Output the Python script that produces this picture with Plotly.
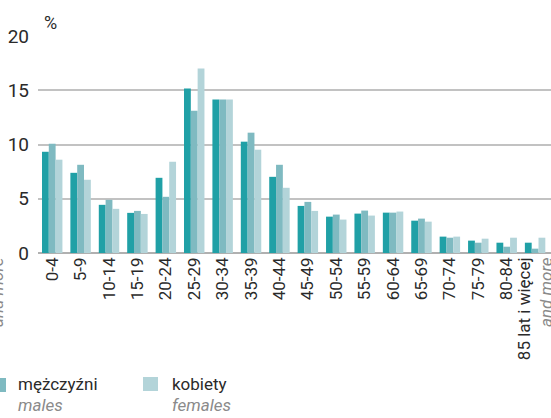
import plotly.graph_objects as go

categories = ["0-4", "5-9", "10-14", "15-19", "20-24", "25-29", "30-34", "35-39",
              "40-44", "45-49", "50-54", "55-59", "60-64", "65-69", "70-74",
              "75-79", "80-84", "85+"]
tick_labels = categories[:-1] + ["85 lat i więcej<br><i><span style='color:#8a8a8a'>and more</span></i>"]

ogolem = [9.33, 7.39, 4.44, 3.70, 6.93, 15.16, 14.14, 10.26, 7.02, 4.34,
          3.35, 3.63, 3.72, 2.98, 1.51, 1.14, 0.95, 0.95]
mezczyzni = [10.07, 8.13, 4.90, 3.88, 5.18, 13.12, 14.14, 11.09, 8.13, 4.71,
             3.54, 3.91, 3.72, 3.17, 1.41, 0.95, 0.58, 0.40]
kobiety = [8.60, 6.75, 4.07, 3.60, 8.41, 17.00, 14.14, 9.52, 6.01, 3.88,
           3.08, 3.45, 3.82, 2.89, 1.51, 1.32, 1.41, 1.41]

y_ticks = [0, 5, 10, 15, 20]

C_DARK = "#20a0a6"
C_MED = "#7fbac1"
C_LIGHT = "#b3d4d9"
FONT = "Roboto, Lato, sans-serif"
TXT = "#2a2a2a"
GRAYTXT = "#8a8a8a"

x_idx = list(range(len(categories)))

fig = go.Figure()
fig.add_bar(x=x_idx, y=ogolem, name="ogółem", marker_color=C_DARK, marker_line_width=0)
fig.add_bar(x=x_idx, y=mezczyzni, name="mężczyźni", marker_color=C_MED, marker_line_width=0)
fig.add_bar(x=x_idx, y=kobiety, name="kobiety", marker_color=C_LIGHT, marker_line_width=0)

fig.update_layout(
    width=551, height=418,
    margin=dict(l=38, r=0, t=36, b=165, autoexpand=False),
    paper_bgcolor="white", plot_bgcolor="white",
    barmode="group", bargap=0.28, bargroupgap=0,
    showlegend=False,
    font=dict(family=FONT, color=TXT),
)
fig.update_xaxes(
    range=[-0.5, 17.56], automargin=False, ticklabeloverflow="allow",
    tickmode="array", tickvals=x_idx, ticktext=tick_labels,
    tickangle=-90, tickfont=dict(size=17, color=TXT),
    showgrid=False, zeroline=False, showline=False, ticks="",
)
fig.update_yaxes(
    range=[0, 20], automargin=False, tickmode="array", tickvals=y_ticks,
    tickfont=dict(size=19, color=TXT),
    showgrid=True, gridcolor="#c2c2c2", gridwidth=1.5,
    zeroline=True, zerolinecolor="#b0b0b0", zerolinewidth=1.5,
    showline=False, ticks="", ticklabelstandoff=8,
)


def px_x(p):
    return (p - 38) / 513


def px_y(p):
    return (253 - p) / 217


# "%" unit label
fig.add_annotation(text="%", xref="paper", yref="paper", x=px_x(42), y=px_y(22),
                   xanchor="left", yanchor="middle", showarrow=False,
                   font=dict(size=18, color=TXT, family=FONT))

# clipped "and more" from neighbouring panel
fig.add_annotation(text="<i>and more</i>", xref="paper", yref="paper",
                   x=px_x(-3), y=px_y(292), textangle=-90,
                   xanchor="center", yanchor="middle",
                   showarrow=False, font=dict(size=17, color=GRAYTXT, family=FONT))

# legend (manual)
fig.add_shape(type="rect", xref="paper", yref="paper", x0=px_x(-8), x1=px_x(6),
              y0=px_y(392), y1=px_y(378), fillcolor=C_MED, line_width=0)
fig.add_shape(type="rect", xref="paper", yref="paper", x0=px_x(143), x1=px_x(158),
              y0=px_y(391), y1=px_y(377), fillcolor=C_LIGHT, line_width=0)
fig.add_annotation(text="mężczyźni", xref="paper", yref="paper", x=px_x(16), y=px_y(384),
                   xanchor="left", yanchor="middle", showarrow=False,
                   font=dict(size=17, color=TXT, family=FONT))
fig.add_annotation(text="<i>males</i>", xref="paper", yref="paper", x=px_x(16), y=px_y(405),
                   xanchor="left", yanchor="middle", showarrow=False,
                   font=dict(size=17, color=GRAYTXT, family=FONT))
fig.add_annotation(text="kobiety", xref="paper", yref="paper", x=px_x(170), y=px_y(384),
                   xanchor="left", yanchor="middle", showarrow=False,
                   font=dict(size=17, color=TXT, family=FONT))
fig.add_annotation(text="<i>females</i>", xref="paper", yref="paper", x=px_x(170), y=px_y(405),
                   xanchor="left", yanchor="middle", showarrow=False,
                   font=dict(size=17, color=GRAYTXT, family=FONT))

fig.write_html(
    "out.html",
    config={"displayModeBar": False},
    post_script="document.body.style.margin='0';document.body.style.padding='0';"
                "document.documentElement.style.overflow='hidden';",
)
